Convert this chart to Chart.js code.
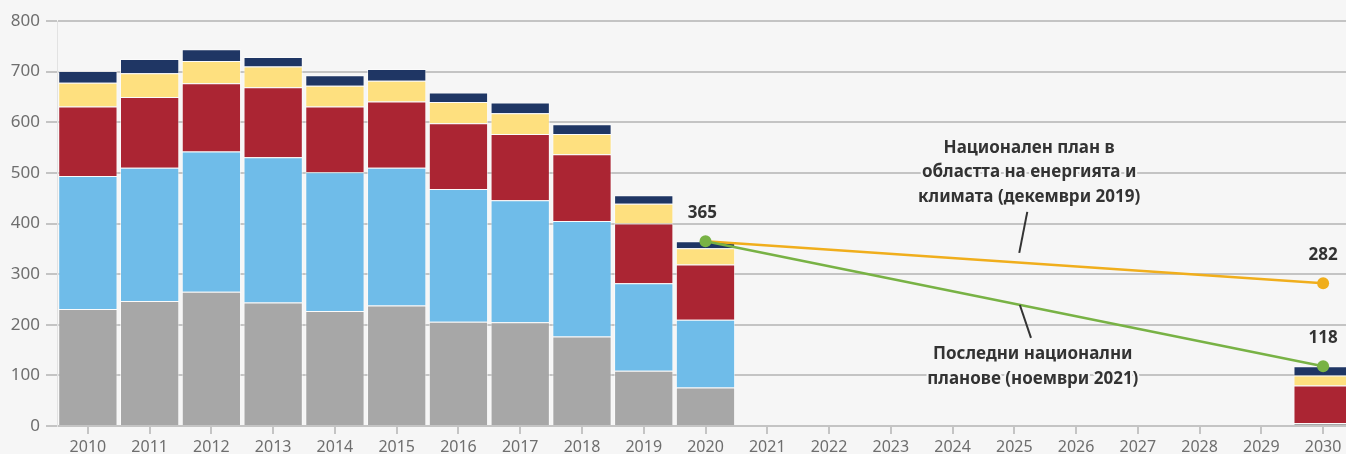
<!DOCTYPE html>
<html lang="bg">
<head>
    <meta charset="UTF-8">
    <title>Емисии</title>
    <script src="https://cdn.jsdelivr.net/npm/chart.js"></script>
    <style>
        html, body { margin:0; padding:0; background:#f6f6f6; overflow:hidden; }
        #wrap { width:1360px; height:454px; }
    </style>
</head>
<body>
    <div id="wrap"><canvas id="myChart"></canvas></div>

    <script>
        // години 2010 - 2030
        const years = [];
        for (let y = 2010; y <= 2030; y++) years.push(String(y));

        // стойности (null = няма данни)
        const grey   = [231, 247, 265, 244, 227, 238, 206, 205, 177, 109, 76, null, null, null, null, null, null, null, null, null, 6];
        const blue   = [263, 263, 277, 287, 274, 272, 262, 241, 228, 173, 134, null, null, null, null, null, null, null, null, null, 0];
        const red    = [137, 140, 135, 138, 130, 131, 130, 131, 132, 118, 109, null, null, null, null, null, null, null, null, null, 74];
        const yellow = [47, 47, 44, 41, 41, 41, 42, 41, 40, 39, 32, null, null, null, null, null, null, null, null, null, 20];
        const navy   = [23, 28, 23, 19, 21, 23, 19, 21, 19, 17, 14, null, null, null, null, null, null, null, null, null, 18];

        // линии на плановете
        const plan2019 = [null, null, null, null, null, null, null, null, null, null, 365, null, null, null, null, null, null, null, null, null, 282];
        const plan2021 = [null, null, null, null, null, null, null, null, null, null, 365, null, null, null, null, null, null, null, null, null, 118];

        const FONT = '"Noto Sans", "Open Sans", sans-serif';
        const BG = '#f6f6f6';

        const barSet = (data, color) => ({
            type: 'bar',
            data: data,
            backgroundColor: color,
            borderColor: 'rgba(255,255,255,0.55)',
            borderWidth: 1,
            barPercentage: 0.96,
            categoryPercentage: 1,
            stack: 'bars',
            order: 2
        });

        // надписи над точките и бележки
        const labelsPlugin = {
            id: 'labels',
            afterDatasetsDraw(chart) {
                const ctx = chart.ctx;
                const xs = chart.scales.x, ys = chart.scales.y;
                const step = xs.getPixelForValue(1) - xs.getPixelForValue(0);
                const px = (i) => xs.getPixelForValue(i);
                ctx.save();
                ctx.textAlign = 'center';
                ctx.textBaseline = 'middle';
                ctx.font = 'bold 17px ' + FONT;
                ctx.fillStyle = '#333';
                const vals = [[10, plan2019[10], -0.05], [20, plan2019[20], 0], [20, plan2021[20], 0]];
                vals.forEach(([i, v, dx]) => {
                    ctx.fillText(String(v), px(i) + dx * step, ys.getPixelForValue(v) - 28);
                });

                // водещи линии
                ctx.strokeStyle = '#333';
                ctx.lineWidth = 2;
                const seg = (x1, y1, x2, y2) => {
                    ctx.beginPath();
                    ctx.moveTo(px(15) + x1 * step, ys.getPixelForValue(y1));
                    ctx.lineTo(px(15) + x2 * step, ys.getPixelForValue(y2));
                    ctx.stroke();
                };
                seg(0.21, 423, 0.08, 342);
                seg(0.09, 239, 0.27, 174);

                // текст с ореол
                ctx.font = 'bold 17px ' + FONT;
                ctx.lineJoin = 'round';
                const note = (lines, cx, ysVals) => {
                    lines.forEach((t, k) => {
                        const x = px(15) + cx * step, y = ys.getPixelForValue(ysVals[k]);
                        ctx.strokeStyle = BG;
                        ctx.lineWidth = 4;
                        ctx.strokeText(t, x, y);
                        ctx.fillStyle = '#333';
                        ctx.fillText(t, x, y);
                    });
                };
                note(['Национален план в', 'областта на енергията и', 'климата (декември 2019)'], 0.24, [549, 501, 452]);
                note(['Последни национални', 'планове (ноември 2021)'], 0.3, [142, 93]);
                ctx.restore();
            }
        };

        const ctx = document.querySelector('#myChart').getContext('2d');
        const myChart = new Chart(ctx, {
            data: {
                labels: years,
                datasets: [
                    {
                        type: 'line',
                        data: plan2021,
                        borderColor: '#78b245',
                        backgroundColor: '#78b245',
                        borderWidth: 2.5,
                        pointRadius: 6,
                        pointBorderWidth: 0,
                        spanGaps: true,
                        stack: 'l2',
                        order: 0
                    },
                    {
                        type: 'line',
                        data: plan2019,
                        borderColor: '#f0ae1c',
                        backgroundColor: '#f0ae1c',
                        borderWidth: 2.5,
                        pointRadius: (c) => c.dataIndex === 20 ? 6 : 0,
                        pointBorderWidth: 0,
                        spanGaps: true,
                        stack: 'l1',
                        order: 1
                    },
                    barSet(grey, '#a7a7a7'),
                    barSet(blue, '#6fbce9'),
                    barSet(red, '#ab2533'),
                    barSet(yellow, '#fee07f'),
                    barSet(navy, '#1f3664')
                ]
            },
            options: {
                responsive: true,
                maintainAspectRatio: false,
                animation: false,
                layout: { padding: { top: 21, right: 1, left: 0, bottom: 0 } },
                plugins: {
                    legend: { display: false },
                    tooltip: { enabled: false }
                },
                scales: {
                    x: {
                        stacked: true,
                        offset: true,
                        grid: {
                            display: true,
                            drawOnChartArea: false,
                            drawTicks: true,
                            tickLength: 8,
                            color: '#c4c4c4',
                            lineWidth: 2,
                            offset: false
                        },
                        border: { display: true, color: '#c4c4c4', width: 2 },
                        ticks: {
                            color: '#6e6e6e',
                            font: { family: FONT, size: 16 },
                            padding: 4,
                            maxRotation: 0,
                            autoSkip: false
                        },
                        afterFit(scale) { scale.height = 28; }
                    },
                    y: {
                        stacked: true,
                        min: 0,
                        max: 800,
                        grid: {
                            color: '#c4c4c4',
                            lineWidth: 2,
                            tickLength: 11
                        },
                        border: { display: true, color: '#e2e2e2', width: 1 },
                        ticks: {
                            stepSize: 100,
                            color: '#6e6e6e',
                            font: { family: FONT, size: 17 },
                            padding: 6
                        },
                        afterFit(scale) { scale.width = 57; }
                    }
                }
            },
            plugins: [labelsPlugin]
        });
    </script>
</body>
</html>
